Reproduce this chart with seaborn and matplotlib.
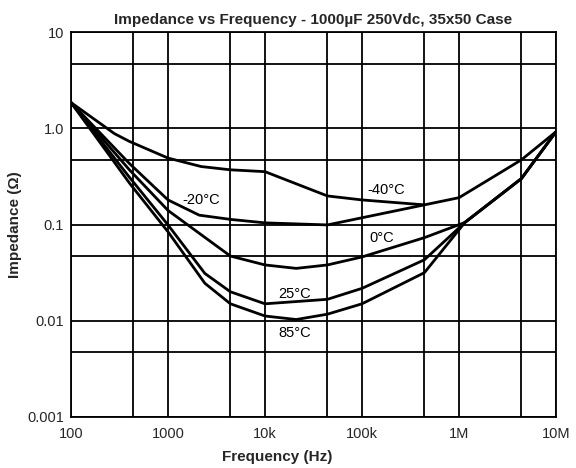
import pandas as pd
import matplotlib
matplotlib.use("Agg")
import matplotlib.pyplot as plt
import seaborn as sns

# values (Hz, ohms)
freq_m40 = [100, 280, 400, 1000, 2200, 4400, 10e3, 44e3, 100e3, 440e3, 1e6, 2e6, 4.4e6, 10e6]
z_m40 = [1.85, 0.88, 0.73, 0.49, 0.40, 0.37, 0.354, 0.198, 0.18, 0.16, 0.19, 0.29, 0.47, 0.92]

freq_m20 = [100, 400, 1000, 2100, 4400, 10e3, 44e3, 440e3]
z_m20 = [1.85, 0.43, 0.18, 0.125, 0.113, 0.104, 0.099, 0.16]

freq_0 = [100, 400, 1000, 4400, 10e3, 21e3, 44e3, 100e3, 440e3, 1.15e6, 4.4e6, 10e6]
z_0 = [1.85, 0.37, 0.14, 0.047, 0.038, 0.035, 0.038, 0.046, 0.073, 0.105, 0.30, 0.92]

freq_25 = [100, 400, 1000, 2400, 4400, 10e3, 44e3, 100e3, 440e3, 1.15e6, 4.4e6, 10e6]
z_25 = [1.85, 0.31, 0.099, 0.031, 0.020, 0.015, 0.0167, 0.0217, 0.043, 0.105, 0.30, 0.92]

freq_85 = [100, 400, 1000, 2400, 4400, 10e3, 21e3, 44e3, 100e3, 440e3, 1.15e6, 4.4e6, 10e6]
z_85 = [1.85, 0.27, 0.084, 0.0245, 0.015, 0.0112, 0.0103, 0.0117, 0.015, 0.0316, 0.105, 0.30, 0.92]

temps = ["-40°C", "-20°C", "0°C", "25°C", "85°C"]
label_x = [178e3, 2180, 161e3, 20e3, 20e3]
label_y = [0.228, 0.18, 0.072, 0.019, 0.0074]

x_ticks = [1e2, 1e3, 1e4, 1e5, 1e6, 1e7]
x_labels = ["100", "1000", "10k", "100k", "1M", "10M"]
y_ticks = [1e-3, 1e-2, 1e-1, 1, 10]
y_labels = ["0.001", "0.01", "0.1", "1.0", "10"]
x_minor = [4.4e2, 4.4e3, 4.4e4, 4.4e5, 4.4e6]
y_minor = [4.7e-3, 4.7e-2, 4.7e-1, 4.7]

df = pd.concat([
    pd.DataFrame({"freq": f, "z": z, "temp": t})
    for f, z, t in zip([freq_m40, freq_m20, freq_0, freq_25, freq_85],
                       [z_m40, z_m20, z_0, z_25, z_85], temps)
])

sns.set_style("white")
plt.rcParams['font.family'] = ['Liberation Sans', 'DejaVu Sans']

fig = plt.figure(figsize=(5.76, 4.68), dpi=100)
ax = fig.add_axes([71/576, 1-417/468, 485/576, 385/468])

sns.lineplot(data=df, x="freq", y="z", hue="temp", estimator=None, sort=False,
             palette={t: "black" for t in temps}, linewidth=2.0, legend=False, ax=ax)

ax.set_xscale("log")
ax.set_yscale("log")
ax.set_xlim(1e2, 1e7)
ax.set_ylim(1e-3, 10)

ax.set_xticks(x_ticks)
ax.set_xticklabels(x_labels, fontsize=10.5)
ax.set_xticks(x_minor, minor=True)
ax.set_yticks(y_ticks)
ax.set_yticklabels(y_labels, fontsize=10.5)
ax.set_yticks(y_minor, minor=True)
ax.xaxis.set_minor_formatter(matplotlib.ticker.NullFormatter())
ax.yaxis.set_minor_formatter(matplotlib.ticker.NullFormatter())
ax.tick_params(which="both", length=0)
ax.tick_params(axis="x", pad=7)
ax.tick_params(axis="y", pad=5)

ax.grid(True, which="both", color="black", linewidth=1.3)
for s in ax.spines.values():
    s.set_color("black")
    s.set_linewidth(1.3)

for t, lx, ly in zip(temps, label_x, label_y):
    ax.text(lx, ly, t, fontsize=10.5, ha="center", va="center", color="black")

ax.set_title("Impedance vs Frequency - 1000µF 250Vdc, 35x50 Case",
             fontsize=11, fontweight="bold", pad=6)
ax.set_xlabel("Frequency (Hz)", fontsize=11, fontweight="bold")
ax.set_ylabel("Impedance (Ω)", fontsize=11, fontweight="bold")
ax.xaxis.set_label_coords(0.426, -0.085)
ax.yaxis.set_label_coords(-0.10, 0.5)

plt.savefig("out.png", dpi=100)
